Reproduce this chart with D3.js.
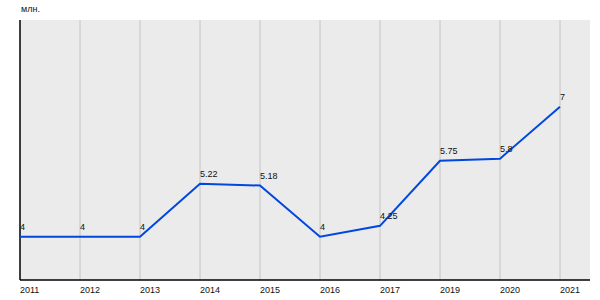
<!DOCTYPE html>
<html>
<head>
<meta charset="utf-8">
<script src="https://cdn.jsdelivr.net/npm/d3@7"></script>
<style>
  body { margin: 0; background: #fff; }
  text { font-family: "Liberation Sans", Arial, sans-serif; }
</style>
</head>
<body>
<div id="chart"></div>
<script>
// chart data
var years = ["2011", "2012", "2013", "2014", "2015", "2016", "2017", "2019", "2020", "2021"];
var values = [4, 4, 4, 5.22, 5.18, 4, 4.25, 5.75, 5.8, 7];
var valueLabels = ["4", "4", "4", "5.22", "5.18", "4", "4.25", "5.75", "5.8", "7"];
var unitLabel = "млн.";

var svgWidth = 600;
var svgHeight = 300;
var plot = { left: 20, right: 590, top: 20, bottom: 280 };

var svg = d3.select("#chart")
    .append("svg")
    .attr("width", svgWidth)
    .attr("height", svgHeight);

// x positions: one slot of 60px per year, last slot extends past 2021
var xScale = d3.scalePoint()
    .domain(years)
    .range([plot.left, plot.left + 60 * (years.length - 1)]);

var yScale = d3.scaleLinear()
    .domain([3, 9])
    .range([plot.bottom, plot.top]);

// background
svg.append("rect")
    .attr("x", plot.left)
    .attr("y", plot.top)
    .attr("width", plot.right - plot.left)
    .attr("height", plot.bottom - plot.top)
    .attr("fill", "#ebebeb");

// vertical grid lines
svg.append("g")
    .selectAll("line")
    .data(years.slice(1))
    .enter()
    .append("line")
    .attr("x1", d => xScale(d))
    .attr("x2", d => xScale(d))
    .attr("y1", plot.top)
    .attr("y2", plot.bottom)
    .attr("stroke", "#c4c4c4")
    .attr("stroke-width", 1);

// axes lines
svg.append("line")
    .attr("x1", plot.left).attr("x2", plot.left)
    .attr("y1", plot.top).attr("y2", plot.bottom)
    .attr("stroke", "#000").attr("stroke-width", 1.5);

svg.append("line")
    .attr("x1", plot.left).attr("x2", plot.right)
    .attr("y1", plot.bottom).attr("y2", plot.bottom)
    .attr("stroke", "#000").attr("stroke-width", 1.5);

// tick labels
svg.append("g")
    .selectAll("text")
    .data(years)
    .enter()
    .append("text")
    .attr("x", d => xScale(d))
    .attr("y", plot.bottom + 13)
    .attr("font-size", "9px")
    .attr("fill", "#111")
    .text(d => d);

// unit label
svg.append("text")
    .attr("x", plot.left + 1)
    .attr("y", 12)
    .attr("font-size", "9px")
    .attr("fill", "#111")
    .text(unitLabel);

// line
var line = d3.line()
    .x((d, i) => xScale(years[i]))
    .y(d => yScale(d));

svg.append("path")
    .datum(values)
    .attr("d", line)
    .attr("fill", "none")
    .attr("stroke", "#0047e0")
    .attr("stroke-width", 2);

// value labels
svg.append("g")
    .selectAll("text")
    .data(values)
    .enter()
    .append("text")
    .attr("x", (d, i) => xScale(years[i]))
    .attr("y", d => yScale(d) - 7)
    .attr("font-size", "9px")
    .attr("fill", "#111")
    .text((d, i) => valueLabels[i]);
</script>
</body>
</html>
